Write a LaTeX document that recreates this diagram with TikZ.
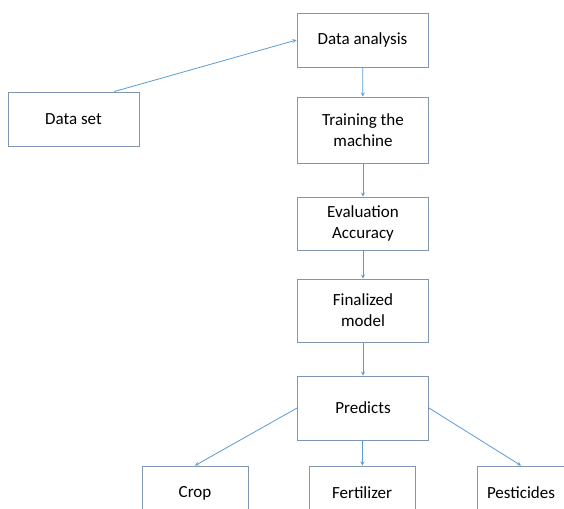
\documentclass[tikz,border=0pt]{standalone}
\usepackage{fontspec}
\setmainfont{Carlito}
\usepackage{xcolor}
\usetikzlibrary{calc}

\definecolor{boxline}{RGB}{128,150,178}
\definecolor{arrowline}{RGB}{91,155,213}

\begin{document}
\begin{tikzpicture}[x=1pt, y=-1pt]
		\tikzset{
			box/.style={draw=boxline, line width=0.9pt, minimum width=131pt, minimum height=54pt,
				align=center, inner sep=0pt, font=\fontsize{17}{21}\selectfont},
			leaf/.style={box, minimum width=106pt}
		}
		\useasboundingbox (0,0) rectangle (564,508);
		\clip (0,0) rectangle (564,508);

		\node [box] (analysis) at (362.5,40) {Data analysis};
		\node [box] (dataset) at (73.5,119) {Data set};
		\node [box, minimum height=66pt] (training) at (363,130) {Training the\\machine};
		\node [box, minimum height=53pt] (evaluation) at (363,223.5) {Evaluation\\Accuracy};
		\node [box, minimum height=63pt] (finalized) at (363,310.5) {Finalized\\model};
		\node [box, minimum height=64pt] (predicts) at (363,408) {Predicts};

		\node [leaf] (crop) at (195,493) {Crop};
		\node [leaf] (fertilizer) at (362,493) {Fertilizer};
		\node [leaf, minimum width=88pt] (pesticides) at (521,493) {Pesticides};

		\begin{scope}[-stealth, draw=arrowline, line width=0.8pt]
			\draw (dataset.34) -- (analysis.west);
			\draw (analysis) -- (training);
			\draw (training) -- (evaluation);
			\draw (evaluation) -- (finalized);
			\draw (finalized) -- (predicts);
			\draw (predicts.west) -- (crop.north);
			\draw (predicts) -- (fertilizer);
			\draw (predicts.east) -- (pesticides.north);
		\end{scope}
	\end{tikzpicture}
\end{document}
